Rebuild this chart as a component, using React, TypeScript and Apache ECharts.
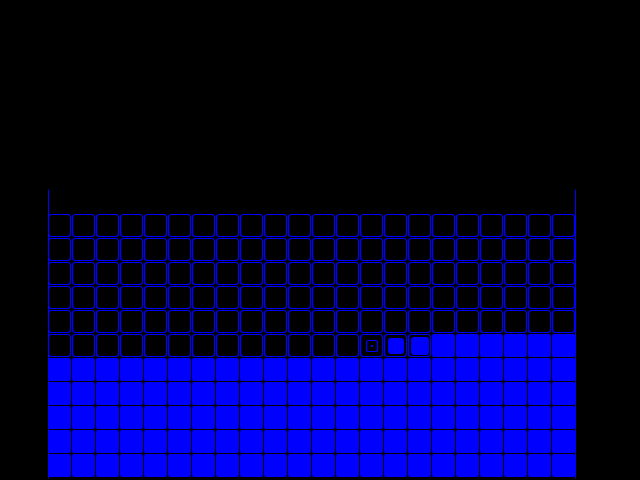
import React, { useEffect, useRef } from "react";
import * as echarts from "echarts";

// Number of cells across and rows of cells drawn
const columnCount = 22;
const rowCount = 11;
const axisRows = 12;
// Fill level (in cells) of each column, counted from the bottom
const columnLevels = [
  5, 5, 5, 5, 5, 5, 5, 5, 5, 5, 5, 5, 5, 5.5, 5.68, 5.78, 6, 6, 6, 6, 6, 6,
];

const BLUE = "#0000ff";

export default function App() {
  const ref = useRef<HTMLDivElement>(null);
  useEffect(() => {
    document.body.style.margin = "0";
    document.body.style.background = "#000";
    if (!ref.current) return;
    const chart = echarts.init(ref.current, null, { renderer: "svg" });

    const data: number[][] = [];
    for (let c = 0; c < columnCount; c++) {
      for (let r = 0; r < rowCount; r++) {
        const lvl = columnLevels[c];
        let f = 0;
        if (lvl >= r + 1) f = 1;
        else if (lvl > r) f = lvl - r;
        data.push([c, r, f]);
      }
    }

    chart.setOption({
      animation: false,
      backgroundColor: "#000",
      grid: { left: 48, right: 64, top: 190, bottom: 2 },
      xAxis: {
        type: "value",
        min: 0,
        max: columnCount,
        show: false,
      },
      yAxis: [
        {
          type: "value",
          min: 0,
          max: axisRows,
          axisLine: { show: true, lineStyle: { color: BLUE, width: 1 } },
          axisTick: { show: false },
          axisLabel: { show: false },
          splitLine: { show: false },
        },
        {
          type: "value",
          min: 0,
          max: axisRows,
          position: "right",
          offset: -1,
          axisLine: { show: true, lineStyle: { color: BLUE, width: 1 } },
          axisTick: { show: false },
          axisLabel: { show: false },
          splitLine: { show: false },
        },
      ],
      series: [
        {
          type: "custom",
          coordinateSystem: "cartesian2d",
          data,
          renderItem: (params: any, api: any) => {
            const c = api.value(0);
            const r = api.value(1);
            const f = api.value(2);
            const p = api.coord([c, r + 1]);
            const s = api.size([1, 1]);
            const w = s[0];
            const h = s[1];
            const x0 = Math.round(p[0]);
            const y0 = Math.round(p[1]);
            const children: any[] = [];
            if (f >= 1) {
              children.push({
                type: "rect",
                shape: { x: x0, y: y0, width: w - 1, height: h - 1, r: 2 },
                style: { fill: BLUE },
              });
            } else {
              children.push({
                type: "rect",
                shape: { x: x0 + 0.5, y: y0 + 0.5, width: w - 2, height: h - 2, r: 3 },
                style: { fill: "#000", stroke: BLUE, lineWidth: 1.2 },
              });
              if (f > 0) {
                const size = Math.round((w - 1) * f);
                const cx = x0 + (w - 1) / 2;
                const cy = y0 + (h - 1) / 2;
                const hollow = f < 0.6;
                if (hollow) {
                  children.push({
                    type: "rect",
                    shape: {
                      x: Math.round(cx - size / 2) + 0.5,
                      y: Math.round(cy - size / 2) + 0.5,
                      width: size - 1,
                      height: size - 1,
                      r: 2,
                    },
                    style: { fill: "#000", stroke: BLUE, lineWidth: 1.2 },
                  });
                  children.push({
                    type: "rect",
                    shape: { x: Math.round(cx) - 1, y: Math.round(cy) - 1, width: 2, height: 2 },
                    style: { fill: BLUE },
                  });
                } else {
                  children.push({
                    type: "rect",
                    shape: {
                      x: Math.round(cx - size / 2),
                      y: Math.round(cy - size / 2),
                      width: size,
                      height: size,
                      r: 3,
                    },
                    style: { fill: BLUE },
                  });
                }
              }
            }
            return { type: "group", children };
          },
        },
      ],
    });
    return () => chart.dispose();
  }, []);
  return <div ref={ref} style={{ width: 640, height: 480 }} />;
}
